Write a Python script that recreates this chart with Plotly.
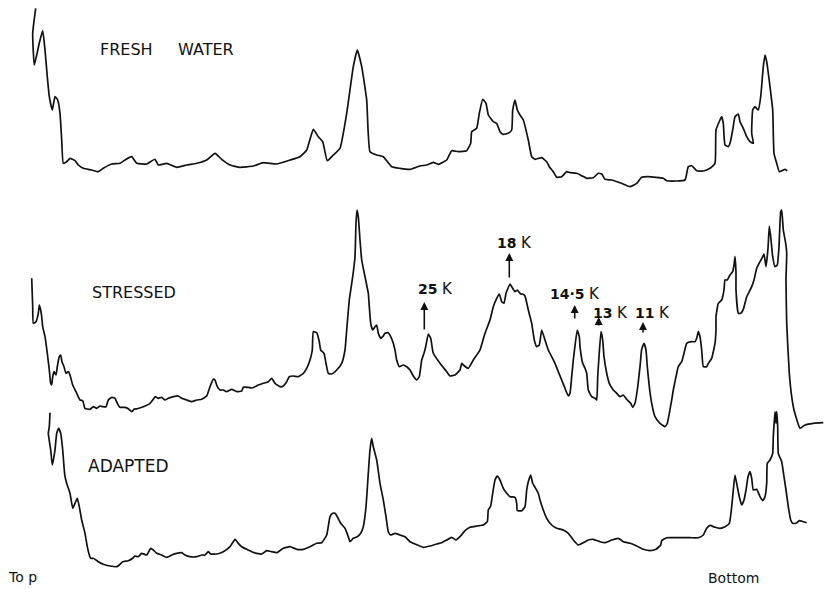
import plotly.graph_objects as go

# Densitometer scans of gel lanes (top of gel at left, bottom at right).
# Position along the scan and pen deflection (downward chart units).
fresh_pos = [35.7, 32.7, 34.3, 39.3, 42.7, 45, 47.3, 49.3, 52.3, 55, 57.7, 60, 61.7, 63.3, 66.7, 70, 75, 78.3,
             83.3, 91.7, 98.3, 103.3, 111.7, 120, 125, 131.7, 136.7, 146.7, 155, 158.3, 166.7, 176.7, 186.7,
             196.7, 206.7, 215, 221.7, 230, 240, 253.3, 263.3, 276.7, 290, 300, 306.7, 313.3, 318.3, 322.7,
             327.3, 333.3, 340, 346.7, 353.3, 357.3, 361.7, 366.7, 370, 376.7, 383.3, 391.7, 400, 410, 420,
             426.7, 433.3, 438.3, 446.7, 451.7, 458.3, 466.7, 470.7, 471.7, 476.7, 479.3, 482.7, 486, 488.3,
             493.3, 496.7, 500, 503.3, 508.3, 511.7, 512.7, 515, 517.3, 520, 523.3, 528.3, 531.7, 535, 541.7,
             546.7, 549.3, 553.3, 556.7, 561.7, 566.7, 570, 576.7, 581.7, 586.7, 593.3, 598.3, 601.7, 605,
             611.7, 620, 630, 636.7, 641.7, 648.3, 663.3, 666.7, 676.7, 685, 688.3, 691.7, 696.7, 703.3, 710,
             715, 716, 720, 721.7, 723.3, 725, 728.3, 730, 732.7, 735, 738.3, 740, 743.3, 746.7, 750, 753.3,
             751.7, 752.7, 755, 758.3, 760.7, 763.3, 765, 766.7, 770, 772.7, 774, 776.7, 779.3, 781.7, 785,
             787.3]
fresh_val = [8.3, 33.3, 65, 43, 30.7, 50, 76.7, 96.7, 110, 96.7, 100, 113.3, 140, 163.3, 161.7, 158.3, 160.7,
             165, 168.3, 170, 171.7, 168.3, 164, 163.3, 160, 156.7, 163.3, 164, 159.3, 165, 163.3, 167.3, 165,
             163.3, 160, 153.3, 159.3, 165, 167.3, 166, 162.7, 164, 160, 156.7, 150, 129.3, 136.7, 141.7,
             160.7, 155, 148.3, 113.3, 66.7, 50, 66.7, 100, 151.7, 155, 156.7, 166.7, 168.3, 169.3, 166,
             165, 162.3, 164.3, 160, 150.7, 151.7, 150.7, 143.3, 131.7, 128.3, 113.3, 99.3, 103.3, 115,
             121.7, 123.3, 131.7, 134.3, 133.3, 130, 110, 100, 110, 115, 120, 140, 156.7, 159.3, 157.7,
             161.7, 166.7, 171.7, 177.3, 176.7, 171.7, 172.7, 173.3, 175.7, 178.3, 177.7, 173.3, 174, 179.3,
             180, 182.7, 186.7, 183.3, 177.3, 176.7, 178.3, 180.7, 181, 180, 166.7, 165.7, 170.7, 171, 168.3,
             163.3, 130, 120, 116.7, 123.3, 145, 146.7, 143.3, 130, 116.7, 114, 121.7, 128.3, 136.7, 141.7, 143.3,
             133.3, 110, 106.7, 110, 96.7, 66.7, 55, 61.7, 86.7, 110, 153.3, 163.3, 171.7, 170.7, 169.3,
             170.7]

stressed_pos = [31.7, 32.7, 33.3, 36, 38.3, 39.3, 40.7, 41.7, 42.7, 45, 47.3, 49.3, 50.7, 51.7, 52.7, 54, 56,
                57.3, 59.3, 60.7, 62, 64, 66, 68.3, 70, 72.7, 76, 80, 82.7, 85, 90, 93.3, 96.7, 100, 102.7, 106,
                108.3, 111.7, 115, 117.3, 120, 125, 128.3, 131.7, 134, 137.3, 143.3, 150, 153.3, 155, 158.3,
                161.7, 165, 168.3, 173.3, 178.3, 181.7, 186.7, 191.7, 196.7, 201.7, 206.7, 210, 213.3, 215,
                217.3, 220, 223.3, 226.7, 231.7, 236.7, 241.7, 243.3, 248.3, 251.7, 255, 258.3, 263.3, 268.3,
                271.7, 275, 280, 283.3, 286.7, 289.3, 293.3, 298.3, 303.3, 306.7, 310, 312.3, 313.3, 316.7,
                319.3, 320.7, 324, 326, 328.3, 331.7, 336.7, 341.7, 345, 346.7, 349.3, 352.7, 355, 356, 357,
                358.3, 360, 361.7, 365, 368.3, 369.3, 370.7, 372.7, 375, 376.7, 378.3, 380.7, 382.7, 385,
                388.3, 390.7, 393.3, 395, 396.7, 399.3, 403.3, 406.7, 410, 413.3, 416.7, 419.3, 421.7, 424,
                425.7, 428.3, 430.7, 433.3, 440, 446.7, 450, 455, 460, 461.7, 463.3, 468.3, 473.3, 480, 485,
                490, 493.3, 496.7, 499.3, 501.7, 504, 506, 507.3, 510, 511.7, 515, 517.3, 520.7, 522.7, 525,
                528.3, 531.7, 534.3, 536.7, 539.3, 541.7, 545, 548.3, 551.7, 555, 558.3, 561.7, 565, 568.3,
                570, 571.7, 573.3, 575.3, 577.3, 579.3, 580, 582.7, 585, 586.7, 588.3, 591.7, 595, 596.7,
                597.7, 599, 601, 602.7, 604, 606.7, 609.3, 613.3, 616.7, 620, 623.3, 626.7, 630.7, 632.7,
                635, 637.3, 640, 641.7, 644, 646, 647.3, 649.3, 651.7, 655, 660, 665, 667.3, 669.3, 671.7,
                673.3, 676, 678.3, 681.7, 684, 686.7, 691.7, 695, 696.7, 698.3, 700, 701.7, 703.3, 706.7,
                708.3, 711.7, 715, 716, 716, 718.3, 721.7, 722.7, 724, 725, 727.3, 730, 732.7, 734, 735, 736,
                736, 738.3, 740.7, 743.3, 746.7, 749.3, 751.7, 754, 756.7, 760, 762.7, 764, 766, 768, 769.3,
                770.7, 772.7, 775, 777.3, 779, 780.7, 781.7, 783.3, 785.7, 786.7, 786, 786.7, 789.3, 791.7,
                794, 800, 805, 813.3, 823.3]
stressed_val = [278.3, 306.7, 323.3, 321.7, 313.3, 305, 310, 316.7, 326.7, 336.7, 353.3, 370, 383.3, 385,
                376.7, 371.7, 375, 366.7, 356.7, 355, 361.7, 366.7, 373.3, 371.7, 375, 385, 391.7, 400, 400.7,
                408.3, 409.3, 406.7, 408.3, 406, 406.7, 406.7, 400, 397.3, 398.3, 403.3, 407.3, 407.3, 408.7,
                411.7, 409.3, 408.7, 406.7, 403.3, 399.3, 396.7, 398.3, 397.3, 400, 398.3, 396.7, 396, 398.3,
                400, 401.7, 400, 399.3, 396, 386.7, 379.3, 380, 386.7, 390, 390, 391.7, 389.3, 391.7, 391,
                387.3, 387.3, 388, 386.7, 385, 383.3, 381.7, 378.3, 383.3, 386.7, 386, 381.7, 376.7, 376,
                376.7, 373.3, 368.3, 360, 350, 331.7, 332.7, 341.7, 350, 353.3, 363.3, 373.3, 374, 370,
                363.3, 350, 330, 300, 276.7, 256.7, 223.3, 210, 216.7, 240, 260, 276.7, 293.3, 306.7, 323.3,
                330, 326.7, 325, 333.3, 338.3, 336.7, 333.3, 332.7, 336.7, 343.3, 350, 360, 366.7, 365,
                366.7, 370, 376, 380, 376.7, 360, 353.3, 346.7, 334, 338.3, 353.3, 363.3, 371.7, 376, 375,
                370, 363.3, 365, 368.3, 360, 350, 333.3, 320, 306.7, 298.3, 294, 301.7, 303.3, 293.3, 290,
                284, 286.7, 291.7, 290, 294, 294, 296, 310, 323.3, 340, 346.7, 345, 330, 340, 350, 356.7,
                363.3, 371.7, 380, 388.3, 396, 393.3, 376.7, 360, 343.3, 330, 336.7, 346.7, 363.3, 368.3,
                373.3, 390, 396.7, 398.3, 400, 376.7, 356.7, 331.7, 340, 356.7, 373.3, 383.3, 390, 393.3,
                396.7, 395, 399.3, 403.3, 407.3, 403.3, 390, 366.7, 349.3, 343.3, 350, 366.7, 386.7, 403.3,
                416.7, 423.3, 426.7, 423.3, 413.3, 400, 390, 376.7, 366.7, 361.7, 353.3, 343.3, 341.7, 341.7,
                338.3, 331.7, 336.7, 350, 366.7, 366.7, 363.3, 358.3, 343.3, 330, 316.7, 303.3, 300, 296.7,
                290, 280, 280, 275, 271.7, 265, 256.7, 273.3, 290, 313.3, 313.3, 309.3, 296.7, 291.7, 286.7,
                280, 268.3, 261.7, 256.7, 254, 266.7, 248.3, 226, 236.7, 256.7, 266.7, 265, 246.7, 211.7,
                210, 230, 243.3, 253.3, 280, 323.3, 373.3, 396.7, 410, 428.3, 425, 423.3, 422.7, 423.3]

adapted_pos = [50, 49.3, 48.3, 50.7, 52.3, 55, 56.7, 58.7, 60.7, 62.7, 64, 65, 66.7, 70, 72.7, 75, 77.3, 79.3,
               81.7, 85, 87.3, 89.3, 90.7, 93.3, 98.3, 103.3, 110, 116.7, 119.3, 122.7, 128.3, 132.7, 135,
               138.3, 141.7, 146.7, 150.7, 153.3, 156.7, 161.7, 166.7, 171.7, 176.7, 181.7, 185, 190, 196.7,
               201.7, 205, 208.3, 210.7, 216.7, 223.3, 230, 235, 238.3, 241.7, 246.7, 251.7, 256.7, 261.7,
               266.7, 271.7, 276.7, 283.3, 290, 296.7, 303.3, 310, 316.7, 321.7, 326.7, 330, 332.7, 335,
               337.3, 340.7, 345, 348.3, 350, 353.3, 357.3, 360.7, 363.3, 366, 368.3, 370, 371.7, 373.3,
               376.7, 380, 383.3, 386, 388.3, 390.7, 395, 400, 405, 410, 415, 423.3, 430, 436.7, 441.7, 446.7,
               451.7, 456, 460, 465, 470, 476.7, 483.3, 487.3, 488.3, 490.7, 492.7, 495, 497.3, 500, 503.3,
               506.7, 510, 515, 516.7, 517.3, 521.7, 525, 526.7, 528.3, 530.7, 532.7, 535, 538.3, 540, 543.3,
               546.7, 551.7, 556.7, 563.3, 568.3, 573.3, 578.3, 583.3, 588.3, 593.3, 600, 605, 611.7, 618.3,
               623.3, 630, 636.7, 643.3, 650, 656, 660.7, 661.7, 666.7, 676.7, 690, 698.3, 703.3, 706.7, 710,
               715, 720, 725, 729.3, 731.7, 733.3, 735, 737.3, 739.3, 741.7, 744, 746, 748, 750, 751.7, 753.3,
               756.7, 760, 762.7, 765, 766.7, 767.3, 770, 772.7, 773.3, 775, 776, 776.7, 777.7, 778.3, 781.7,
               784, 786, 788.3, 790.7, 792.7, 796, 799.3, 803.3, 806.7]
adapted_val = [412.7, 426.7, 433.3, 450, 465, 450, 433.3, 428.3, 433.3, 450, 466.7, 476.7, 483.3, 493.3,
               508.3, 503.3, 498.3, 506.7, 520, 533.3, 546.7, 555, 558.3, 558.3, 561.7, 564.3, 566, 566.7,
               565, 561.7, 560.7, 558.3, 556, 556.7, 553.3, 555, 548.3, 550, 553.3, 555, 557.3, 555, 553.3,
               552.7, 555, 556.7, 556.7, 555, 555, 551.7, 554, 554, 551.7, 546.7, 539.3, 543.3, 546.7, 549.3,
               551.7, 553.3, 554, 550.7, 551.7, 552.7, 548.3, 546.7, 549.3, 549.3, 546.7, 543.3, 542.7, 535,
               516.7, 513.3, 513.3, 516.7, 523.3, 528.3, 536.7, 541.7, 538.3, 536.7, 533.3, 526.7, 506.7,
               473.3, 450, 438.3, 446.7, 460, 483.3, 500, 516.7, 531.7, 535, 533.3, 535, 536.7, 541.7, 544,
               547.3, 546, 544, 542.7, 540, 537.3, 540, 536.7, 530.7, 527.3, 526, 525, 521.7, 510, 506, 493.3,
               480, 476, 480, 488.3, 493.3, 496.7, 497.3, 503.3, 510.7, 510.7, 506.7, 490, 481.7, 475, 483.3,
               487.3, 493.3, 500, 510, 518.3, 525, 528.3, 530, 533.3, 540, 545, 542.7, 540, 539.3, 541.7,
               542.7, 540, 538.3, 541.7, 543.3, 546, 549.3, 550.7, 549.3, 545, 540.7, 537.7, 537.7, 537.7,
               537.7, 535, 528.3, 525.3, 527.3, 528.3, 526.7, 523.3, 506.7, 490, 475, 486.7, 496.7, 505, 500,
               490, 476.7, 471.7, 478.3, 490, 489.3, 496.7, 500.7, 496.7, 483.3, 463.3, 460, 453.3, 436.7,
               411.7, 423.3, 411.7, 426.7, 453.3, 461.7, 476.7, 490, 506.7, 520, 523.3, 523.3, 520.7, 521.7,
               522.7]

# Molecular-weight markers on the stressed lane: label, band position, arrow tail and tip
marker_labels = ["25", "18", "14·5", "13", "11"]
marker_pos = [424.3, 509.3, 574.7, 598.7, 643]
marker_tail = [331, 279, 320, 327, 334]
marker_tip = [302, 253, 305, 317, 322]
marker_text_x = [416, 495, 548, 591, 633]
marker_text_y = [289, 243, 294, 313, 313]

lanes = [
    ("FRESH", fresh_pos, fresh_val),
    ("STRESSED", stressed_pos, stressed_val),
    ("ADAPTED", adapted_pos, adapted_val),
]

fig = go.Figure()
for name, xs, ys in lanes:
    fig.add_trace(go.Scatter(x=xs, y=ys, mode="lines", name=name,
                             line=dict(color="#111111", width=1.7, shape="spline", smoothing=0.4),
                             hoverinfo="skip"))

label_font = dict(family="DejaVu Sans, sans-serif", size=16, color="#111111")
annotations = [
    dict(x=98, y=49, text="FRESH", font=label_font),
    dict(x=176, y=49, text="WATER", font=label_font),
    dict(x=90, y=292, text="STRESSED", font=label_font),
    dict(x=86, y=466, text="ADAPTED", font=dict(label_font, size=17)),
    dict(x=6, y=577, text="To p", font=dict(label_font, size=14)),
    dict(x=706, y=578, text="Bottom", font=dict(label_font, size=14)),
]
for a in annotations:
    a.update(xref="x", yref="y", xanchor="left", yanchor="middle", showarrow=False)

for lab, px, tail, tip, tx, ty in zip(marker_labels, marker_pos, marker_tail, marker_tip,
                                      marker_text_x, marker_text_y):
    annotations.append(dict(x=tx, y=ty, xref="x", yref="y", xanchor="left", yanchor="middle",
                            showarrow=False,
                            text=f"<b>{lab}</b> <span style='font-size:15px'>K</span>",
                            font=dict(family="DejaVu Sans, sans-serif", size=14, color="#111111")))
    annotations.append(dict(x=px, y=tip, ax=px, ay=tail, xref="x", yref="y", axref="x", ayref="y",
                            text="", showarrow=True, arrowhead=2, arrowsize=1.0, arrowwidth=1.6,
                            arrowcolor="#111111"))

fig.update_layout(
    width=825, height=589,
    margin=dict(l=0, r=0, t=0, b=0),
    paper_bgcolor="white", plot_bgcolor="white",
    showlegend=False,
    annotations=annotations,
    xaxis=dict(range=[0, 825], visible=False, fixedrange=True),
    yaxis=dict(range=[589, 0], visible=False, fixedrange=True),
)

fig.write_html("out.html")
